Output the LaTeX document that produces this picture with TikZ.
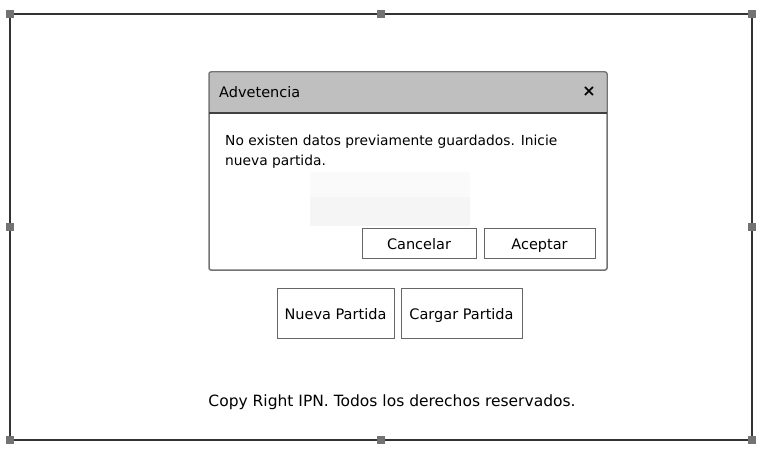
\documentclass[tikz,border=0pt]{standalone}
\usepackage{fontspec}
\setmainfont{DejaVu Sans}
\begin{document}
\begin{tikzpicture}[x=1pt,y=-1pt,
  handle/.style={fill=gray!90!black,draw=none,minimum size=8pt,inner sep=0pt},
  btn/.style={draw=gray!80!black,line width=1pt,fill=white,inner sep=0pt,text height=13pt,text depth=0pt,font=\fontsize{14.5}{17}\selectfont},
  txt/.style={inner sep=0pt,font=\fontsize{14.5}{17}\selectfont},
  every node/.style={text=black}]
\useasboundingbox (0,0) rectangle (775,465);
\fill[white] (0,0) rectangle (775,465);
% outer frame
\draw[line width=2pt,draw=black!80] (10,14) rectangle (752,440);
\foreach \n/\x/\y in {h1/10/14,h2/381/14,h3/752/14,h4/10/227,h5/752/227,h6/10/440,h7/381/440,h8/752/440}
  \node[handle] (\n) at (\x,\y) {};
% dialog
\draw[draw=gray!90!black,line width=1.5pt,fill=white,rounded corners=2pt] (209,72) rectangle (607,270);
\fill[gray!50!white,rounded corners=2pt] (209.8,72.8) rectangle (606.2,113);
\draw[line width=1.5pt,draw=black!75] (209,113) -- (607,113);
\node[txt,anchor=base west] (title) at (219,98) {Advetencia};
\node[inner sep=0pt,font=\bfseries\fontsize{16}{18}\selectfont] (close) at (589,92) {×};
\node[txt,anchor=base west,font=\fontsize{13.8}{17}\selectfont] (msg) at (225,146) {No existen datos previamente guardados. Inicie};
\node[txt,anchor=base west,font=\fontsize{13.8}{17}\selectfont] (msg2) at (225,165) {nueva partida.};
\fill[black!2] (310,172) rectangle (470,197);
\fill[black!4] (310,197) rectangle (470,226);
\node[btn,minimum width=114pt,minimum height=30pt] (cancel) at (419,243) {Cancelar};
\node[btn,minimum width=111pt,minimum height=30pt] (ok) at (539.5,243) {Aceptar};
% main buttons
\node[btn,minimum width=117pt,minimum height=50pt] (nueva) at (335.5,313) {Nueva Partida};
\node[btn,minimum width=121pt,minimum height=50pt] (cargar) at (461.5,313) {Cargar Partida};
\node[txt,anchor=base,font=\fontsize{15.5}{18}\selectfont] (copy) at (392,406) {Copy Right IPN. Todos los derechos reservados.};
\end{tikzpicture}
\end{document}
